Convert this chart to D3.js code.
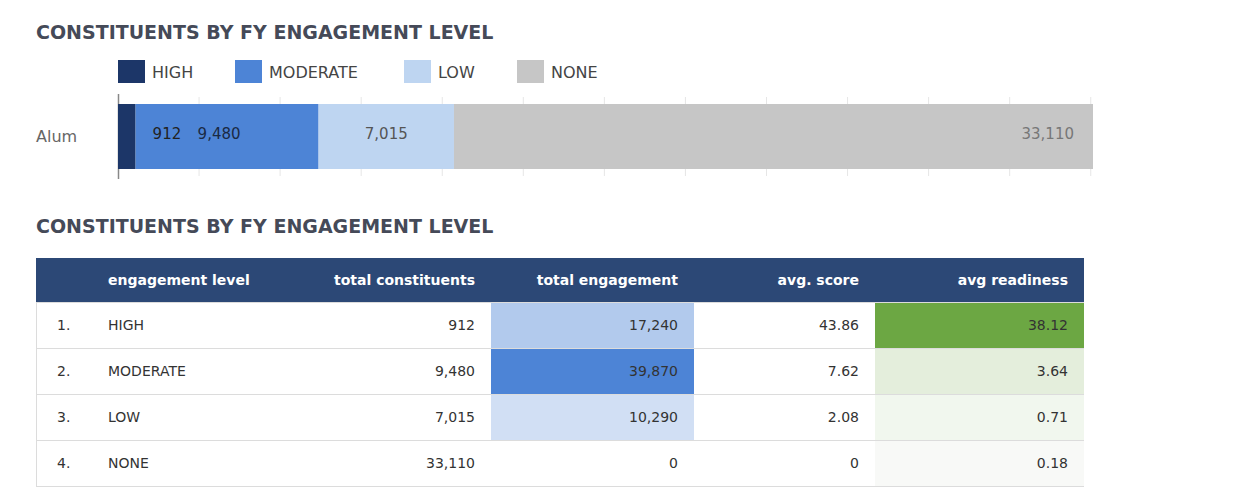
<!DOCTYPE html>
<html><head><meta charset="utf-8">
<script src="https://cdn.jsdelivr.net/npm/d3@7"></script>
<style>body{margin:0;background:#fff;font-family:"DejaVu Sans",sans-serif}</style>
</head><body><div id="chart"></div>
<script>
var levels = ["HIGH", "MODERATE", "LOW", "NONE"];
var constituents = [912, 9480, 7015, 33110];
var engagement = [17240, 39870, 10290, 0];
var avgScore = [43.86, 7.62, 2.08, 0];
var avgReadiness = [38.12, 3.64, 0.71, 0.18];
var barColors = ["#1c3668", "#4d84d6", "#bed5f1", "#c6c6c6"];
var headers = ["", "engagement level", "total constituents", "total engagement", "avg. score", "avg readiness"];

var W = 1240, H = 501;
var svg = d3.select("#chart").append("svg").attr("width", W).attr("height", H);
var fmt = d3.format(",");

function title(y) {
  svg.append("text").attr("x", 36).attr("y", y).attr("font-size", 19).attr("font-weight", "bold")
    .attr("fill", "#454a58").text("CONSTITUENTS BY FY ENGAGEMENT LEVEL");
}
title(39);
title(233);

// legend
var legX = [118, 235, 404, 517];
levels.forEach(function(l, i) {
  svg.append("rect").attr("x", legX[i]).attr("y", 60).attr("width", 27).attr("height", 23).attr("fill", barColors[i]);
  svg.append("text").attr("x", legX[i] + 34).attr("y", 78).attr("font-size", 16).attr("fill", "#444").text(l);
});

// stacked bar
var total = d3.sum(constituents);
var x = d3.scaleLinear().domain([0, total]).range([118, 1093]);
var ticks = d3.range(4200, total, 4200);
svg.selectAll(".grid").data(ticks).enter().append("line")
  .attr("x1", function(d) { return x(d); }).attr("x2", function(d) { return x(d); })
  .attr("y1", 97).attr("y2", 176).attr("stroke", "#e6e6e6");
svg.append("line").attr("x1", 118.5).attr("x2", 118.5).attr("y1", 94).attr("y2", 179).attr("stroke", "#888").attr("stroke-width", 1.5);
svg.append("text").attr("x", 36).attr("y", 142).attr("font-size", 16).attr("fill", "#666").text("Alum");

var cum = 0;
var segs = constituents.map(function(v) { var s = {x0: cum, x1: cum + v, v: v}; cum += v; return s; });
svg.selectAll(".seg").data(segs).enter().append("rect")
  .attr("x", function(d) { return x(d.x0); }).attr("width", function(d) { return x(d.x1) - x(d.x0); })
  .attr("y", 104).attr("height", 65).attr("fill", function(d, i) { return barColors[i]; });
var labColors = ["#222", "#1a2a44", "#555", "#777"];
segs.forEach(function(d, i) {
  var t = svg.append("text").attr("y", 139).attr("font-size", 15).attr("fill", labColors[i]).text(fmt(d.v));
  if (i === 0) t.attr("x", x(d.x1) + 17);
  else if (i === 1) t.attr("x", x(d.x0) + 62);
  else if (i === 2) t.attr("x", (x(d.x0) + x(d.x1)) / 2).attr("text-anchor", "middle");
  else t.attr("x", x(d.x1) - 19).attr("text-anchor", "end");
});

// table
var tx0 = 36, tx1 = 1084, hy = 258, hh = 44, rh = 46;
var colEdges = [36, 92, 290, 491, 694, 875, 1084];
var engColor = d3.scaleLinear().domain([0, 39870]).range(["#ffffff", "#4d84d6"]);
var readColor = d3.scaleLinear().domain([0, 0.6, 4, 38.12]).range(["#fafafa", "#f2f7ef", "#e2edda", "#6ca743"]);

svg.append("rect").attr("x", tx0).attr("y", hy).attr("width", tx1 - tx0).attr("height", hh).attr("fill", "#2c4876");
headers.forEach(function(h, i) {
  if (!h) return;
  var t = svg.append("text").attr("y", hy + 27).attr("font-size", 14).attr("font-weight", "bold").attr("fill", "#fff").text(h);
  if (i === 1) t.attr("x", 108); else t.attr("x", colEdges[i + 1] - 16).attr("text-anchor", "end");
});

levels.forEach(function(l, r) {
  var y = hy + hh + r * rh;
  svg.append("rect").attr("x", tx0 + 0.5).attr("y", y + 0.5).attr("width", tx1 - tx0 - 1).attr("height", rh).attr("fill", "#fff").attr("stroke", "#dcdcdc");
  svg.append("rect").attr("x", colEdges[3]).attr("y", y + 1).attr("width", colEdges[4] - colEdges[3]).attr("height", rh - 1).attr("fill", engColor(engagement[r]));
  svg.append("rect").attr("x", colEdges[5]).attr("y", y + 1).attr("width", colEdges[6] - colEdges[5]).attr("height", rh - 1).attr("fill", readColor(avgReadiness[r]));
  var ty = y + 28, fs = 14, c = "#333";
  svg.append("text").attr("x", 57).attr("y", ty).attr("font-size", fs).attr("fill", c).text((r + 1) + ".");
  svg.append("text").attr("x", 108).attr("y", ty).attr("font-size", fs).attr("fill", c).text(l);
  var vals = [fmt(constituents[r]), fmt(engagement[r]), avgScore[r] ? avgScore[r].toFixed(2) : "0", avgReadiness[r].toFixed(2)];
  vals.forEach(function(v, k) {
    svg.append("text").attr("x", colEdges[k + 3] - 16).attr("y", ty).attr("text-anchor", "end").attr("font-size", fs).attr("fill", c).text(v);
  });
});
</script></body></html>
